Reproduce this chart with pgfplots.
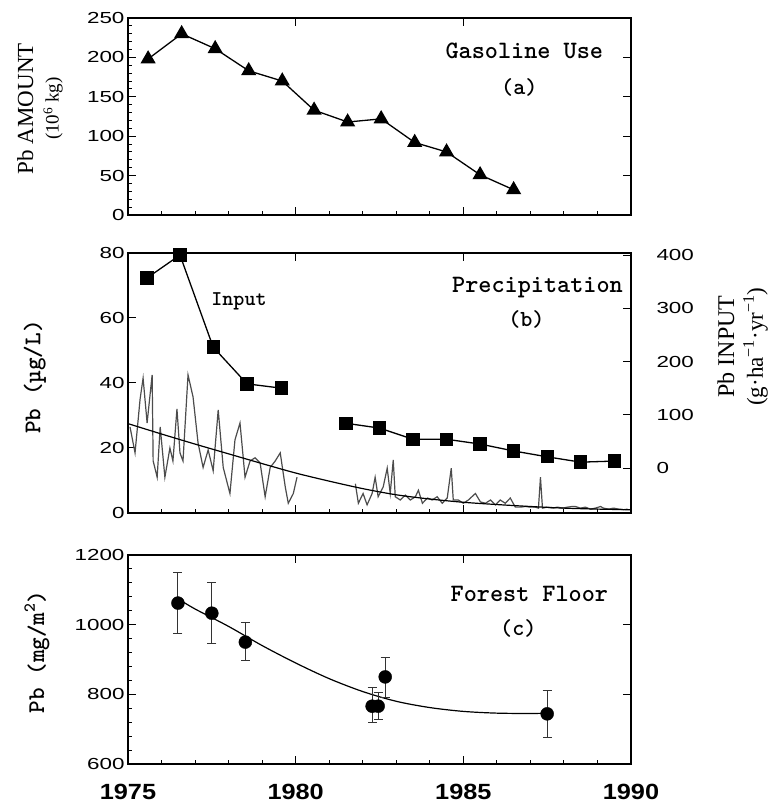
\documentclass[border=0pt]{standalone}
\usepackage{fontspec}
\usepackage{pgfplots}
\pgfplotsset{compat=1.18}
\newfontfamily\tickfont[FakeStretch=1.4]{Liberation Sans}
\newfontfamily\yearfont[FakeStretch=1.15]{Liberation Sans}
\newfontfamily\serif{Liberation Serif}

\begin{document}
\begin{tikzpicture}
\useasboundingbox (-128pt,-48pt) rectangle (642pt,764pt);
\pgfplotsset{
  panel/.style={scale only axis, width=503pt, xmin=1975, xmax=1990,
    axis line style={line width=1.5pt}, tick align=inside,
    major tick length=8pt, minor tick length=4pt,
    every tick/.style={black, line width=1pt},
    tick label style={font=\tickfont\fontsize{16}{16}\selectfont},
    /pgf/number format/assume math mode=true,
    /pgf/number format/1000 sep={}, clip=false},
  lower/.style={panel, xtick={1975,1980,1985,1990}, minor x tick num=4,
    xtick pos=left, ytick pos=left},
  upper/.style={panel, xtick pos=right, ytick pos=right,
    xtick={1980,1985}, xticklabels={}, minor tick num=0},
}
\tikzset{
  ttl/.style={font=\ttfamily\bfseries\fontsize{25}{25}\selectfont},
  tag/.style={font=\ttfamily\bfseries\fontsize{23}{23}\selectfont},
}

% (a) gasoline use
\begin{axis}[lower, at={(0pt,549pt)}, anchor=south west, height=197pt,
  ymin=0, ymax=250, ytick={0,50,...,250}, minor y tick num=4, xticklabels={},
  ylabel={\serif\fontsize{23}{28}\selectfont Pb AMOUNT\\[9pt]\serif\fontsize{19}{19}\selectfont(10\textsuperscript{6} kg)},
  ylabel style={align=center,
    at={(axis description cs:-0.175,0.54)}, anchor=center}]
\addplot[black, line width=1.3pt, mark=triangle*, mark size=7.5pt] coordinates {
  (1975.6,198) (1976.6,230) (1977.6,211) (1978.6,183) (1979.6,170)
  (1980.55,133) (1981.55,118) (1982.55,122) (1983.55,92) (1984.5,80)
  (1985.5,51) (1986.5,32)};
\node[ttl] at (axis cs:1986.82,208) {Gasoline Use};
\node[tag] at (axis cs:1986.67,162) {(a)};
\end{axis}
\begin{axis}[upper, at={(0pt,549pt)}, anchor=south west, height=197pt,
  ymin=0, ymax=250, ytick={50,100,150,200}, yticklabels={}]
\end{axis}

% (b) precipitation
\begin{axis}[lower, at={(0pt,251pt)}, anchor=south west, height=260pt,
  ymin=0, ymax=80, ytick={0,20,...,80}, xticklabels={},
  ylabel={Pb (µg/L)},
  ylabel style={font=\ttfamily\bfseries\fontsize{24}{24}\selectfont,
    at={(axis description cs:-0.185,0.523)}, anchor=center}]
\addplot[black!70, line width=1.2pt] coordinates {
  (1975.06,26.5) (1975.21,18.5) (1975.36,35) (1975.45,41.5) (1975.57,27.7)
  (1975.72,42.5) (1975.75,16) (1975.87,11) (1975.96,26.5) (1976.10,11)
  (1976.25,20) (1976.34,16) (1976.46,32) (1976.55,18.5) (1976.64,16)
  (1976.79,42.5) (1976.94,35.7) (1977.09,21.5) (1977.24,14) (1977.39,19.4)
  (1977.54,13) (1977.69,31.7) (1977.84,14) (1978.04,6) (1978.19,22.5)
  (1978.34,27.7) (1978.49,11) (1978.64,16) (1978.79,17) (1978.94,15.4)
  (1979.09,5) (1979.24,14) (1979.39,16) (1979.54,18.5) (1979.69,8)
  (1979.78,3) (1979.93,6) (1980.04,11)};
\addplot[black!70, line width=1.2pt] coordinates {
  (1981.78,9) (1981.87,3) (1982.01,6) (1982.13,2.5) (1982.28,6)
  (1982.37,11) (1982.46,5) (1982.61,8) (1982.73,13.8) (1982.82,6)
  (1982.91,16.3) (1982.97,5) (1983.12,4) (1983.27,5.5) (1983.42,4)
  (1983.57,5) (1983.66,7) (1983.78,3) (1983.93,4.6) (1984.07,4)
  (1984.22,5) (1984.37,3) (1984.52,4.6) (1984.64,13.8) (1984.70,4)
  (1984.85,4) (1985.00,3) (1985.15,4) (1985.36,6) (1985.51,3.4)
  (1985.66,3) (1985.81,4) (1985.96,2.5) (1986.10,4) (1986.25,3)
  (1986.40,4.6) (1986.55,1.8) (1986.70,1.8) (1986.85,2) (1987.00,1.8)
  (1987.15,1.8) (1987.24,1.5) (1987.30,11) (1987.36,1.5) (1987.51,1.8)
  (1987.66,1.5) (1987.81,1.8) (1987.96,1.5) (1988.10,1.8) (1988.25,2)
  (1988.34,2) (1988.49,1.5) (1988.64,1.8) (1988.79,1.2) (1988.94,1.5)
  (1989.09,2) (1989.18,1.5) (1989.33,1.2) (1989.48,1.5) (1989.63,1.2)
  (1989.78,1) (1989.90,1.2)};
\addplot[black, line width=1.2pt, smooth] coordinates {
  (1975,27.5) (1976,24.3) (1977,21.2) (1978,18.2) (1979,15.2) (1980,12.3)
  (1981,9.8) (1982,7.5) (1983,5.6) (1984,4.3) (1985,3.3) (1986,2.6)
  (1987,2.0) (1988,1.5) (1989,1.2) (1990,1.0)};
\node[font=\ttfamily\bfseries\fontsize{21}{21}\selectfont] at (axis cs:1978.31,65) {Input};
\node[ttl] at (axis cs:1987.21,69.5) {Precipitation};
\node[tag] at (axis cs:1986.88,59.4) {(b)};
\end{axis}
\begin{axis}[upper, at={(0pt,251pt)}, anchor=south west, height=260pt,
  ymin=-84.5, ymax=403.8, ytick={0,100,...,400},
  yticklabel style={xshift=22pt},
  ylabel={\serif\fontsize{24}{29}\selectfont Pb INPUT\\[8pt]\serif\fontsize{23}{23}\selectfont(g·ha\textsuperscript{−1}·yr\textsuperscript{−1})},
  ylabel style={align=center,
    at={(axis description cs:1.222,0.64)}, anchor=center, rotate=0}]
\addplot[black, line width=1.3pt, mark=square*, mark size=6pt] coordinates {
  (1975.57,357) (1976.55,400) (1977.54,227) (1978.55,158) (1979.57,150)};
\addplot[black, line width=1.3pt, mark=square*, mark size=6pt] coordinates {
  (1981.5,84) (1982.5,75) (1983.5,54) (1984.5,54) (1985.5,45)
  (1986.5,32) (1987.5,21) (1988.5,11) (1989.5,13)};
\end{axis}

% (c) forest floor
\begin{axis}[lower, at={(0pt,0pt)}, anchor=south west, height=209pt,
  ymin=600, ymax=1200, ytick={600,800,...,1200}, minor y tick num=4,
  xticklabel style={font=\yearfont\bfseries\fontsize{22}{22}\selectfont, yshift=-17pt},
  ylabel={Pb (mg/m\textsuperscript{2})},
  ylabel style={font=\ttfamily\bfseries\fontsize{24}{24}\selectfont,
    at={(axis description cs:-0.181,0.536)}, anchor=center}]
\addplot[black, line width=1.2pt, smooth] coordinates {
  (1976.6,1068) (1977,1045) (1978,995) (1979,940) (1980,890) (1981,845)
  (1982,808) (1983,780) (1984,762) (1985,751) (1986,746) (1987,745)
  (1987.5,746)};
\addplot[black, only marks, mark=*, mark size=6.5pt,
  error bars/.cd, y dir=both, y explicit,
  error bar style={line width=1pt, black!80},
  error mark options={rotate=90, mark size=4.5pt, line width=1pt, black!80}]
  coordinates {
  (1976.49,1062) += (0,89) -= (0,86)
  (1977.5,1033) += (0,87) -= (0,86)
  (1978.5,950) += (0,55) -= (0,54)
  (1982.28,766) += (0,55) -= (0,48)
  (1982.46,766) += (0,38) -= (0,37)
  (1982.67,850) += (0,57) -= (0,58)
  (1987.5,744) += (0,68) -= (0,67)};
\node[ttl] at (axis cs:1986.97,1088) {Forest Floor};
\node[tag] at (axis cs:1986.64,990) {(c)};
\end{axis}
\begin{axis}[upper, at={(0pt,0pt)}, anchor=south west, height=209pt,
  ymin=600, ymax=1200, ytick={800,1000}, yticklabels={}]
\end{axis}
\end{tikzpicture}
\end{document}
